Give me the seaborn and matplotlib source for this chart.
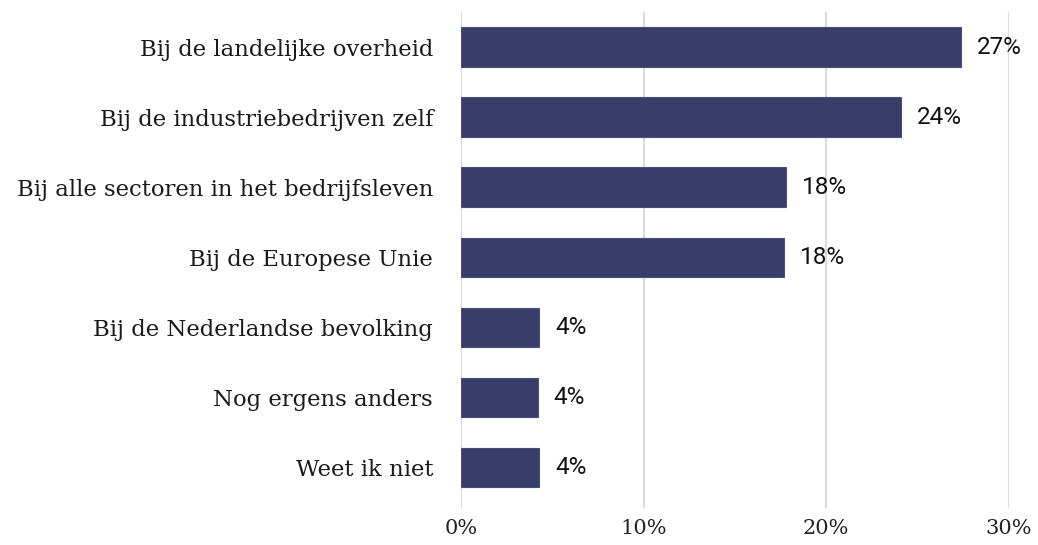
import pandas as pd
import matplotlib.pyplot as plt
import seaborn as sns

# Data
categories = [
    'Bij de landelijke overheid',
    'Bij de industriebedrijven zelf',
    'Bij alle sectoren in het bedrijfsleven',
    'Bij de Europese Unie',
    'Bij de Nederlandse bevolking',
    'Nog ergens anders',
    'Weet ik niet',
]
values = [27.4, 24.1, 17.8, 17.7, 4.3, 4.2, 4.3]
value_labels = ['27%', '24%', '18%', '18%', '4%', '4%', '4%']
x_ticks = [0, 10, 20, 30]
x_tick_labels = ['0%', '10%', '20%', '30%']

df = pd.DataFrame({'categorie': categories, 'aandeel': values})

sns.set_style("white")

fig = plt.figure(figsize=(10.38, 5.45), dpi=100)
ax = fig.add_axes([0.444, 0.068, 0.528, 0.91])

sns.barplot(data=df, y='categorie', x='aandeel', orient='h',
            color='#393d6a', saturation=1, width=0.56,
            edgecolor='#4a4f7c', linewidth=0.8, ax=ax, zorder=3)

# Value labels next to each bar
for i, (v, lab) in enumerate(zip(values, value_labels)):
    ax.text(v + 0.85, i, lab, va='center', ha='left',
            fontsize=17.5, family=['Roboto', 'DejaVu Sans'],
            fontstretch='normal', fontweight='normal', color='#111111')

ax.set_xlim(0, 30)
ax.set_ylim(6.58, -0.5)
ax.set_xticks(x_ticks)
ax.set_xticklabels(x_tick_labels, family='DejaVu Serif', fontsize=15, color='#222222')
ax.tick_params(axis='x', length=0, pad=8)
ax.tick_params(axis='y', length=0, pad=20)
for t in ax.get_yticklabels():
    t.set_family('DejaVu Serif')
    t.set_fontsize(16.4)
    t.set_color('#1a1a1a')

ax.grid(axis='x', color='#dcdcdc', linewidth=1.6, zorder=0)
ax.grid(axis='y', visible=False)
sns.despine(ax=ax, left=True, bottom=True)
ax.set_xlabel('')
ax.set_ylabel('')

fig.savefig('out.png', dpi=100)
